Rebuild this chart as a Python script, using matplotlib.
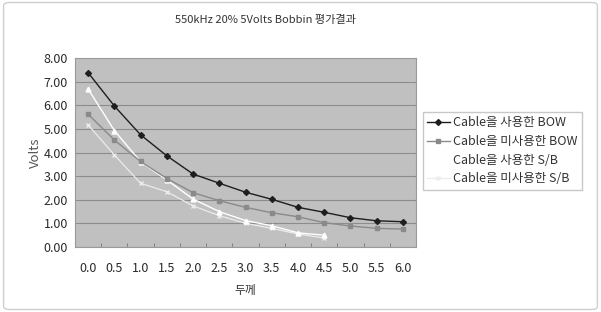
import numpy as np
import matplotlib
matplotlib.use("Agg")
import matplotlib.pyplot as plt
from matplotlib.patches import FancyBboxPatch

plt.rcParams['font.family'] = ['Noto Sans CJK KR', 'DejaVu Sans']

# 데이터
thickness = ["0.0", "0.5", "1.0", "1.5", "2.0", "2.5", "3.0", "3.5", "4.0", "4.5", "5.0", "5.5", "6.0"]
bow_cable = [7.38, 5.97, 4.75, 3.86, 3.09, 2.70, 2.32, 2.02, 1.68, 1.47, 1.24, 1.11, 1.07]
bow_nocable = [5.62, 4.53, 3.62, 2.90, 2.30, 1.96, 1.68, 1.45, 1.28, 1.03, 0.89, 0.79, 0.76]
sb_cable = [6.69, 4.93, 3.61, 2.84, 2.03, 1.50, 1.12, 0.90, 0.60, 0.50]
sb_nocable = [5.17, 3.90, 2.70, 2.34, 1.74, 1.33, 1.00, 0.79, 0.55, 0.38]
labels = ["Cable을 사용한 BOW", "Cable을 미사용한 BOW", "Cable을 사용한 S/B", "Cable을 미사용한 S/B"]

fig = plt.figure(figsize=(6.01, 3.12), dpi=100)
ax = fig.add_axes([0.1248, 0.2083, 0.5674, 0.6057])
ax.set_facecolor('#c0c0c0')

x = np.arange(len(thickness))
ax.plot(x, bow_cable, color='#1e1e1e', marker='D', markersize=3, linewidth=1.0, label=labels[0], zorder=5)
ax.plot(x, bow_nocable, color='#8a8a8a', marker='s', markersize=3.5, linewidth=1.0, label=labels[1], zorder=4)
ax.plot(x[:len(sb_cable)], sb_cable, color='#ffffff', marker='^', markersize=3.5, linewidth=1.0, label=labels[2], zorder=3)
ax.plot(x[:len(sb_nocable)], sb_nocable, color='#ececec', marker='x', markersize=3, linewidth=0.9, label=labels[3], zorder=2)

ax.set_xlim(-0.5, len(thickness) - 0.5)
ax.set_ylim(0, 8)
ax.set_yticks(np.arange(0, 8.01, 1.0))
ax.set_yticklabels([f"{v:.2f}" for v in np.arange(0, 8.01, 1.0)], fontsize=9, color='#2a2a2a')
ax.set_xticks(x)
ax.set_xticklabels(thickness, fontsize=9, color='#2a2a2a')
ax.set_xticks(np.arange(-0.5, len(thickness), 1.0), minor=True)
ax.tick_params(axis='x', which='major', length=0, pad=11)
ax.tick_params(axis='x', which='minor', length=3, direction='in', color='#777777')
ax.tick_params(axis='y', length=0, pad=5)
ax.yaxis.grid(True, color='#8c8c8c', linewidth=0.8)
ax.set_axisbelow(True)
for s in ax.spines.values():
    s.set_color('#9a9a9a')
    s.set_linewidth(0.8)

ax.set_ylabel("Volts", fontsize=9.5, color='#555555', labelpad=1)
ax.set_xlabel("두께", fontsize=8.5, color='#333333', labelpad=6)

fig.text(0.441, 0.935, "550kHz 20% 5Volts Bobbin 평가결과", fontsize=8, ha='center', va='center', color='#333333')

leg = ax.legend(loc='upper left', bbox_to_anchor=(1.02, 0.714), fontsize=9, frameon=True,
                fancybox=False, edgecolor='#bbbbbb', handlelength=1.8, handletextpad=0.3,
                borderpad=0.35, labelspacing=0.45, borderaxespad=0)
for t in leg.get_texts():
    t.set_color('#333333')

border = FancyBboxPatch((0.006, 0.008), 0.988, 0.984, boxstyle="round,pad=0,rounding_size=0.01",
                        transform=fig.transFigure, facecolor='none', edgecolor='#cfcfcf', linewidth=1.0)
fig.patches.append(border)

fig.savefig("out.png", dpi=100)
